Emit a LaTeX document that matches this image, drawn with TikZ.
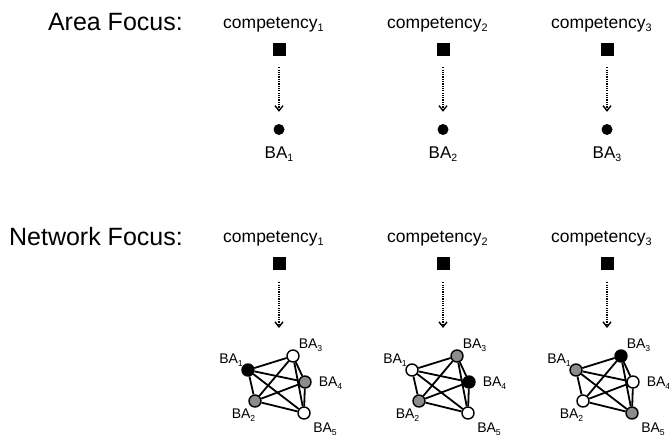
\documentclass[tikz,border=0pt]{standalone}
\usepackage{fontspec}
\setmainfont{Liberation Sans}
\usetikzlibrary{arrows.meta,backgrounds}
\newcommand\mysub[1]{\raisebox{-0.22em}{\scalebox{0.62}{#1}}}
\definecolor{nodegray}{RGB}{140,140,140}
\begin{document}
\begin{tikzpicture}[x=1pt,y=-1pt,
  focus/.style={font=\fontsize{25}{30}\selectfont, anchor=base east, inner sep=0pt},
  comp/.style={font=\fontsize{17.5}{20}\selectfont, anchor=base west, inner sep=0pt},
  sqbox/.style={rectangle, fill=black, minimum size=13pt, inner sep=0pt},
  areanode/.style={circle, fill=black, minimum size=11pt, inner sep=0pt},
  balab/.style={font=\fontsize{17}{20}\selectfont, anchor=base, inner sep=0pt},
  dotarrow/.style={line width=1.4pt, dash pattern=on 1.2pt off 1.1pt,
    -{Straight Barb[length=5pt,width=8pt]}},
  netnode/.style={circle, draw=black, line width=1.4pt, minimum size=12pt, inner sep=0pt},
  netedge/.style={line width=1.8pt},
  netlab/.style={font=\fontsize{14}{16}\selectfont, inner sep=0pt},
]
\useasboundingbox (0,0) rectangle (669,434);

\node[focus] (areaF) at (183,30) {Area Focus:};
\node[focus] (netF) at (183,245) {Network Focus:};

\foreach \i/\x in {1/279,2/443,3/607} {
  \node[comp] (ca\i) at (\x-56,28) {competency\mysub{\i}};
  \node[sqbox] (sqa\i) at (\x,49) {};
  \node[areanode] (baa\i) at (\x,129.5) {};
  \node[balab] (laa\i) at (\x,158) {BA\mysub{\i}};
  \draw[dotarrow, shorten <=11.5pt, shorten >=12pt] (sqa\i) -- (baa\i);
  \node[comp] (cb\i) at (\x-56,242) {competency\mysub{\i}};
  \node[sqbox] (sqb\i) at (\x,263.5) {};
  \coordinate (tip\i) at (\x,328);
  \draw[dotarrow, shorten <=12pt] (sqb\i) -- (tip\i);
}

\foreach \i/\dx/\ca/\cb/\cc/\cd/\ce in {
  1/0/black/nodegray/white/nodegray/white,
  2/164/white/nodegray/nodegray/black/white,
  3/328/nodegray/white/black/white/nodegray} {
  \node[netnode, fill=\ca] (n\i-1) at (248+\dx,370) {};
  \node[netnode, fill=\cb] (n\i-2) at (255+\dx,401) {};
  \node[netnode, fill=\cc] (n\i-3) at (293+\dx,356) {};
  \node[netnode, fill=\cd] (n\i-4) at (305+\dx,382) {};
  \node[netnode, fill=\ce] (n\i-5) at (304+\dx,413) {};
  \begin{scope}[on background layer]
    \foreach \a/\b in {1/2,1/3,1/4,1/5,2/3,2/4,2/5,3/4,3/5,4/5}
      \draw[netedge] (n\i-\a) -- (n\i-\b);
  \end{scope}
  \node[netlab] (l\i-1) at ([shift={(-17,-10)}]n\i-1.center) {BA\mysub{1}};
  \node[netlab] (l\i-2) at ([shift={(-11.5,14)}]n\i-2.center) {BA\mysub{2}};
  \node[netlab] (l\i-3) at ([shift={(17.5,-11)}]n\i-3.center) {BA\mysub{3}};
  \node[netlab] (l\i-4) at ([shift={(25.5,1.5)}]n\i-4.center) {BA\mysub{4}};
  \node[netlab] (l\i-5) at ([shift={(21,16)}]n\i-5.center) {BA\mysub{5}};
}
\end{tikzpicture}
\end{document}
